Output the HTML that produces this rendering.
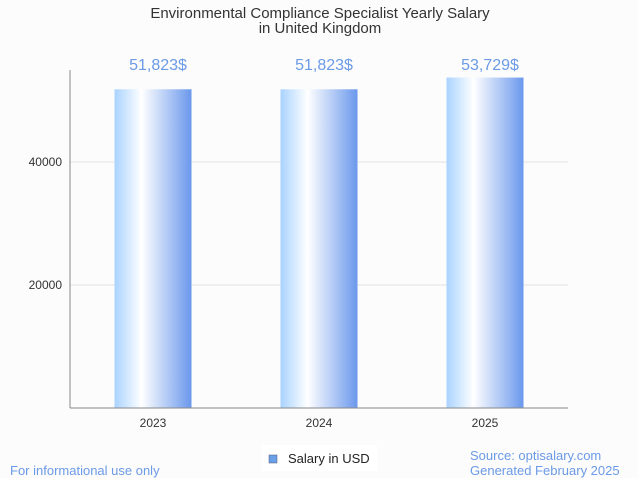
<!DOCTYPE html>
<html><head><meta charset="utf-8"><style>
body{margin:0;background:#fcfcfc;font-family:"Liberation Sans",sans-serif}
svg{display:block}
</style></head><body>
<svg width="638" height="478">
<defs><linearGradient id="g" x1="0" x2="1" y1="0" y2="0">
<stop offset="0" stop-color="#a9d3ff"/><stop offset="0.35" stop-color="#ffffff"/><stop offset="1" stop-color="#6a98ec"/>
</linearGradient></defs>
<text x="320" y="18" text-anchor="middle" font-size="15" fill="#333">Environmental Compliance Specialist Yearly Salary</text>
<text x="320" y="33" text-anchor="middle" font-size="15" fill="#333">in United Kingdom</text>
<g id="grid"></g>
<g id="bars"></g>
<line x1="70" y1="70" x2="70" y2="408" stroke="#888"/>
<line x1="70" y1="408" x2="568" y2="408" stroke="#888"/>
<rect x="262" y="445" width="115" height="26" fill="#fff"/>
<rect x="269" y="455" width="8" height="8" fill="#6aa0e8" stroke="#557" stroke-width="0.5"/>
<text x="288" y="463" font-size="13" fill="#222">Salary in USD</text>
<text x="10" y="475" font-size="13" fill="#6b9ae6">For informational use only</text>
<text x="470" y="460" font-size="13" fill="#6b9ae6">Source: optisalary.com</text>
<text x="470" y="475" font-size="13" fill="#6b9ae6">Generated February 2025</text>
</svg>
<script>
const categories=["2023","2024","2025"];
const salaries=[51823,51823,53729];
const valueLabels=["51,823$","51,823$","53,729$"];
const yTicks=[20000,40000];
const NS="http://www.w3.org/2000/svg";
const y=v=>408-v*123/20000;
const x=i=>70+166*i+83;
const mk=(t,a)=>{const e=document.createElementNS(NS,t);for(const k in a)e.setAttribute(k,a[k]);return e;};
const grid=document.getElementById('grid'),bars=document.getElementById('bars');
yTicks.forEach(t=>{
  const l=mk('line',{x1:70,x2:568,y1:y(t),y2:y(t),stroke:'#e2e2e2'});
  
  
  grid.appendChild(l);
  const tx=mk('text',{x:62,y:y(t)+4,'text-anchor':'end','font-size':12,fill:'#333'});
  tx.textContent=t;
  
  
  grid.appendChild(tx);
});
categories.forEach((c,i)=>{
  const r=mk('rect',{x:x(i)-38.5,y:y(salaries[i]),width:77,height:408-y(salaries[i]),fill:'url(#g)'});
  
  
  bars.appendChild(r);
  const v=mk('text',{x:x(i)+5,y:70,'text-anchor':'middle','font-size':16,fill:'#6b9ae6'});
  v.textContent=valueLabels[i];
  
  
  bars.appendChild(v);
  const t=mk('text',{x:x(i),y:427,'text-anchor':'middle','font-size':12,fill:'#333'});
  t.textContent=c;
  
  
  bars.appendChild(t);
});
</script>
</body></html>
